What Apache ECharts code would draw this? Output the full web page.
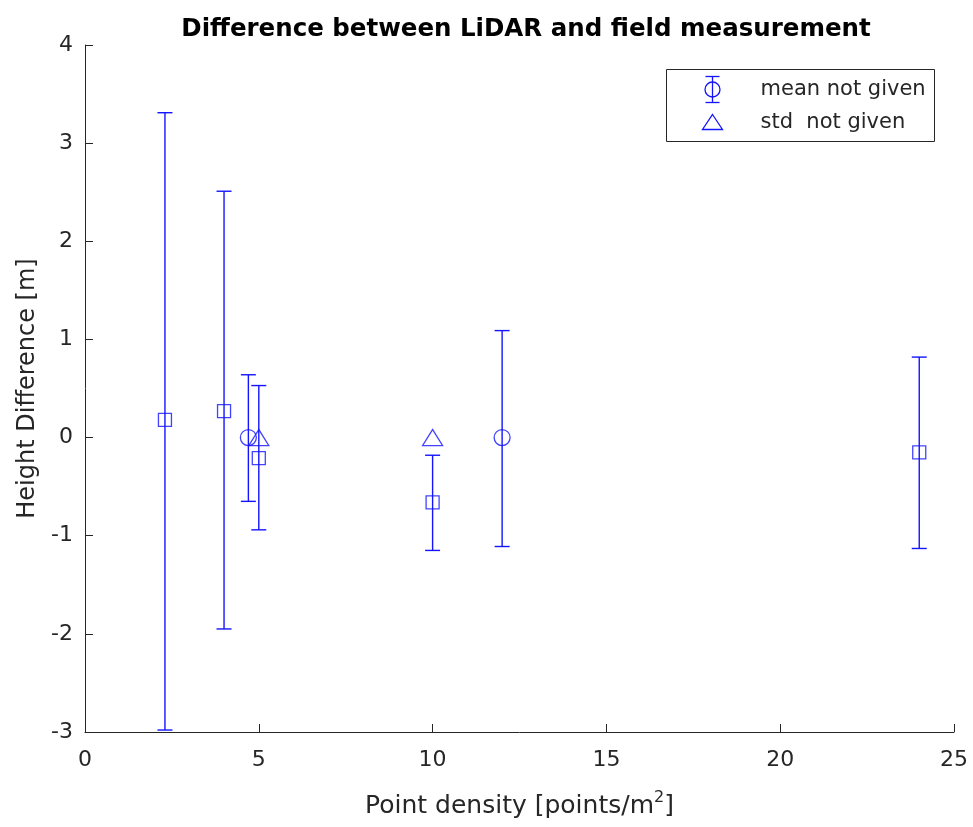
<!DOCTYPE html>
<html>
<head>
<meta charset="utf-8">
<script src="https://cdn.jsdelivr.net/npm/echarts@6/dist/echarts.min.js"></script>
<style>
  html, body { margin: 0; padding: 0; background: #fff; }
  #chart { width: 973px; height: 827px; }
</style>
</head>
<body>
<div id="chart"></div>
<script>
// squares: measured difference with error bars
const sqX = [2.3, 4, 5, 10, 24];
const sqY = [0.18, 0.27, -0.21, -0.66, -0.15];
const sqLow = [-2.98, -1.95, -0.94, -1.15, -1.13];
const sqHigh = [3.31, 2.51, 0.53, -0.18, 0.82];
// circles: mean not given
const circX = [4.7, 12];
const circY = [0, 0];
const circLow = [-0.65, -1.11];
const circHigh = [0.64, 1.09];
// triangles: std not given
const triX = [5, 10];
const triY = [0, 0];

const xTicks = [0, 5, 10, 15, 20, 25];
const yTicks = [-3, -2, -1, 0, 1, 2, 3, 4];

const blue = '#1414ff';
const ink = '#262626';
const font = 'DejaVu Sans';

const chart = echarts.init(document.getElementById('chart'));

function errorBars(xs, lows, highs) {
  return {
    type: 'custom',
    data: xs.map((x, i) => [x, lows[i], highs[i]]),
    encode: { x: 0, y: [1, 2] },
    silent: true,
    z: 2,
    renderItem(params, api) {
      const lo = api.coord([api.value(0), api.value(1)]);
      const hi = api.coord([api.value(0), api.value(2)]);
      const w = 7.5;
      const style = { stroke: blue, lineWidth: 1.4 };
      return {
        type: 'group',
        children: [
          { type: 'line', shape: { x1: lo[0], y1: lo[1], x2: hi[0], y2: hi[1] }, style },
          { type: 'line', shape: { x1: hi[0] - w, y1: hi[1], x2: hi[0] + w, y2: hi[1] }, style },
          { type: 'line', shape: { x1: lo[0] - w, y1: lo[1], x2: lo[0] + w, y2: lo[1] }, style }
        ]
      };
    }
  };
}

function markers(xs, ys, symbol, size, name) {
  return {
    type: 'scatter',
    name: name,
    data: xs.map((x, i) => [x, ys[i]]),
    symbol: symbol,
    symbolSize: size,
    z: 3,
    itemStyle: { color: 'rgba(0,0,0,0)', borderColor: blue, borderWidth: 1.3 }
  };
}

// legend box (MATLAB style)
const lgX = 666, lgY = 69;
const legendGraphic = {
  type: 'group',
  left: lgX, top: lgY,
  children: [
    { type: 'rect', shape: { x: 0, y: 0, width: 268, height: 72 },
      style: { fill: '#fff', stroke: ink, lineWidth: 1 } },
    { type: 'group', x: 46, y: 20, children: [
      { type: 'line', shape: { x1: 0, y1: -13, x2: 0, y2: 13 }, style: { stroke: blue, lineWidth: 1.3 } },
      { type: 'line', shape: { x1: -7, y1: -13, x2: 7, y2: -13 }, style: { stroke: blue, lineWidth: 1.3 } },
      { type: 'line', shape: { x1: -7, y1: 13, x2: 7, y2: 13 }, style: { stroke: blue, lineWidth: 1.3 } },
      { type: 'circle', shape: { cx: 0, cy: 0, r: 7.5 }, style: { fill: 'none', stroke: blue, lineWidth: 1.3 } }
    ]},
    { type: 'text', x: 94, y: 20, style: { text: 'mean not given', font: '21px "DejaVu Sans"', fill: ink, verticalAlign: 'middle' } },
    { type: 'polygon', shape: { points: [[46, 45], [56, 60], [36, 60]] },
      style: { fill: 'none', stroke: blue, lineWidth: 1.3 } },
    { type: 'text', x: 94, y: 53, style: { text: 'std  not given', font: '21px "DejaVu Sans"', fill: ink, verticalAlign: 'middle' } }
  ]
};

chart.setOption({
  backgroundColor: '#fff',
  animation: false,
  textStyle: { fontFamily: font },
  title: {
    text: 'Difference between LiDAR and field measurement',
    left: 521, top: 12, textAlign: 'center',
    textStyle: { fontFamily: font, fontWeight: 'bold', fontSize: 24.5, color: '#000' }
  },
  grid: { left: 85, right: 19, top: 45, bottom: 95, containLabel: false },
  xAxis: {
    type: 'value', min: 0, max: 25, interval: 5,
    name: '{a|Point density [points/m}{s|2}{a|]}',
    nameLocation: 'middle', nameGap: 58,
    nameTextStyle: {
      rich: {
        a: { fontFamily: font, fontSize: 25, color: ink, verticalAlign: 'bottom' },
        s: { fontFamily: font, fontSize: 16, color: ink, verticalAlign: 'top', padding: [0, 0, 13, 0] }
      }
    },
    axisLine: { show: true, onZero: false, lineStyle: { color: ink, width: 1 } },
    axisTick: { show: true, inside: true, length: 8, lineStyle: { color: ink } },
    axisLabel: { color: ink, fontSize: 22, margin: 17, formatter: v => xTicks.includes(v) ? String(v) : '' },
    splitLine: { show: false }
  },
  yAxis: {
    type: 'value', min: -3, max: 4, interval: 1,
    name: 'Height Difference [m]',
    nameLocation: 'middle', nameGap: 44,
    nameTextStyle: { fontFamily: font, fontSize: 24, color: ink },
    axisLine: { show: true, onZero: false, lineStyle: { color: ink, width: 1 } },
    axisTick: { show: true, inside: true, length: 8, lineStyle: { color: ink } },
    axisLabel: { color: ink, fontSize: 22, margin: 12, formatter: v => yTicks.includes(v) ? String(v) : '' },
    splitLine: { show: false }
  },
  graphic: [legendGraphic],
  series: [
    errorBars(sqX, sqLow, sqHigh),
    errorBars(circX, circLow, circHigh),
    markers(sqX, sqY, 'rect', 13, 'measured'),
    markers(circX, circY, 'circle', 16, 'mean not given'),
    markers(triX, triY, 'triangle', [20, 16], 'std  not given')
  ]
});
</script>
</body>
</html>
